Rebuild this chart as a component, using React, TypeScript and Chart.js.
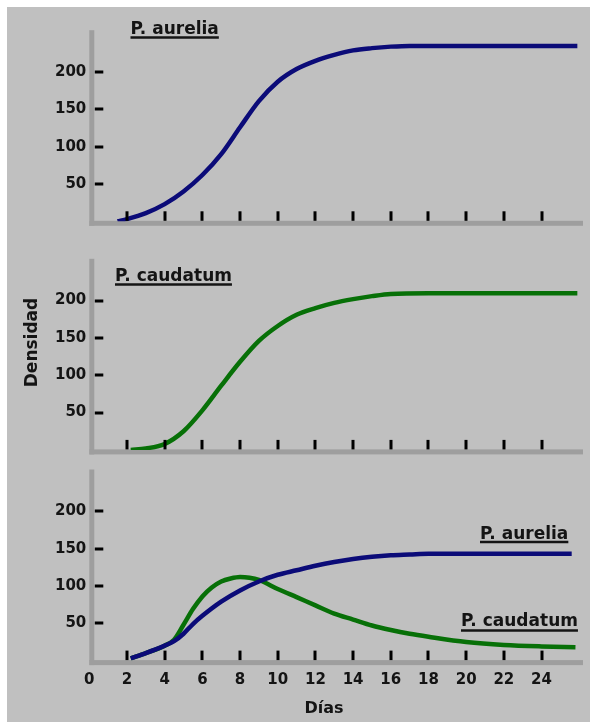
import { useEffect, useRef } from 'react';
import { Chart, registerables } from 'chart.js';

Chart.register(...registerables);

// ---------- data ----------
const xTickDays = [0, 2, 4, 6, 8, 10, 12, 14, 16, 18, 20, 22, 24];
const xMarkDays = [2, 4, 6, 8, 10, 12, 14, 16, 18, 20, 22, 24];
const yTickValues = [50, 100, 150, 200];

const aureliaAloneDays = [1.5, 2, 3, 4, 5, 6, 7, 8, 9, 10, 11, 12, 13, 14, 15, 16, 17, 18, 20, 22, 24, 25.9];
const aureliaAloneValues = [0, 3, 11, 23, 40, 62, 90, 126, 161, 187, 204, 215, 223, 229, 232, 234, 235, 235, 235, 235, 235, 235];

const caudatumAloneDays = [2.2, 3, 4, 5, 6, 7, 8, 9, 10, 11, 12, 13, 14, 15, 16, 18, 20, 22, 24, 25.9];
const caudatumAloneValues = [0, 2, 8, 25, 53, 86, 118, 146, 166, 181, 190, 197, 202, 206, 209, 210, 210, 210, 210, 210];

const aureliaMixedDays = [2.2, 3, 4, 4.5, 5, 5.5, 6, 7, 8, 9, 10, 11, 12, 13, 14, 15, 16, 17, 18, 20, 22, 24, 25.6];
const aureliaMixedValues = [3, 10, 20, 26, 36, 49, 60, 79, 94, 106, 115, 121, 127, 132, 136, 139, 141, 142, 143, 143, 143, 143, 143];

const caudatumMixedDays = [2.2, 3, 4, 4.5, 5, 5.5, 6, 6.5, 7, 7.5, 8, 8.5, 9, 10, 11, 12, 13, 14, 15, 16, 17, 18, 20, 22, 24, 25.8];
const caudatumMixedValues = [3, 10, 20, 28, 48, 69, 86, 98, 106, 110, 112, 111, 108, 96, 85, 74, 63, 55, 47, 41, 36, 32, 25, 21, 19, 18];

const yAxisTitle = 'Densidad';
const xAxisTitle = 'Días';
const nameAurelia = 'P. aurelia';
const nameCaudatum = 'P. caudatum';

// ---------- styles / layout ----------
const W = 590;
const H = 722;
const NAVY = '#0b0b78';
const GREEN = '#077007';
const AXIS_GRAY = '#9e9e9e';
const TEXT = '#141414';
const FONT_FAMILY = '"DejaVu Sans", Verdana, sans-serif';
const X0 = 89.3;
const X1 = 583;
const Y_AXIS_W = 60;
const X_MAX = 26.2;
const Y_MAX = 256;

type Series = { days: number[]; values: number[]; color: string };
type Label = { text: string; x: number; baseline: number; ul: number };
type Panel = { top: number; bottom: number; series: Series[]; showX: boolean; labels: Label[] };

const panels: Panel[] = [
  {
    top: 30.2,
    bottom: 221.3,
    series: [{ days: aureliaAloneDays, values: aureliaAloneValues, color: NAVY }],
    showX: false,
    labels: [{ text: nameAurelia, x: 130.5, baseline: 33.5, ul: 37.5 }],
  },
  {
    top: 258.8,
    bottom: 449.9,
    series: [{ days: caudatumAloneDays, values: caudatumAloneValues, color: GREEN }],
    showX: false,
    labels: [{ text: nameCaudatum, x: 115, baseline: 280.5, ul: 284.5 }],
  },
  {
    top: 469.5,
    bottom: 660.6,
    series: [
      { days: aureliaMixedDays, values: aureliaMixedValues, color: NAVY },
      { days: caudatumMixedDays, values: caudatumMixedValues, color: GREEN },
    ],
    showX: true,
    labels: [
      { text: nameAurelia, x: 480, baseline: 538.5, ul: 542 },
      { text: nameCaudatum, x: 461, baseline: 625.5, ul: 630.5 },
    ],
  },
];

function makeDecor(panel: Panel, index: number) {
  return {
    id: 'decor' + index,
    beforeDatasetsDraw(chart: any) {
      const ctx = chart.ctx as CanvasRenderingContext2D;
      const xs = chart.scales.x;
      const ys = chart.scales.y;
      const x0 = xs.getPixelForValue(0);
      const y0 = ys.getPixelForValue(0);
      const top = ys.getPixelForValue(Y_MAX);
      const xEnd = chart.chartArea.right;
      ctx.save();
      ctx.fillStyle = AXIS_GRAY;
      ctx.fillRect(x0, top, 5, y0 + 4.5 - top);
      ctx.fillRect(x0, y0 - 0.5, xEnd - x0, 5);
      ctx.restore();
    },
    afterDatasetsDraw(chart: any) {
      const ctx = chart.ctx as CanvasRenderingContext2D;
      const xs = chart.scales.x;
      const ys = chart.scales.y;
      const x0 = xs.getPixelForValue(0);
      const y0 = ys.getPixelForValue(0);
      ctx.save();
      ctx.fillStyle = '#000';
      xMarkDays.forEach((d) => {
        const px = xs.getPixelForValue(d);
        ctx.fillRect(Math.round(px) - 1.5, y0 - 10, 3, 9.5);
      });
      yTickValues.forEach((v) => {
        const py = ys.getPixelForValue(v);
        ctx.fillRect(x0 + 5.5, Math.round(py) - 1.5, 8.5, 3);
      });
      // series names with underline
      ctx.fillStyle = TEXT;
      ctx.font = 'bold 17px ' + FONT_FAMILY;
      ctx.textAlign = 'left';
      ctx.textBaseline = 'alphabetic';
      panel.labels.forEach((l) => {
        ctx.fillText(l.text, l.x, l.baseline);
        const w = ctx.measureText(l.text).width;
        ctx.fillRect(l.x, l.ul - 1.25, w, 2.5);
      });
      if (index === 1) {
        ctx.save();
        ctx.translate(37, 342.5);
        ctx.rotate(-Math.PI / 2);
        ctx.textAlign = 'center';
        ctx.font = 'bold 17px ' + FONT_FAMILY;
        ctx.fillText(yAxisTitle, 0, 0);
        ctx.restore();
      }
      if (index === 2) {
        ctx.textAlign = 'center';
        ctx.font = 'bold 16px ' + FONT_FAMILY;
        ctx.fillText(xAxisTitle, 324, 713);
      }
      ctx.restore();
    },
  };
}

function PanelChart({ panel, index }: { panel: Panel; index: number }) {
  const ref = useRef<HTMLCanvasElement | null>(null);
  useEffect(() => {
    if (!ref.current) return;
    const xAxisH = panel.showX ? 30 : 0;
    const chart = new Chart(ref.current, {
      type: 'line',
      data: {
        datasets: panel.series.map((s) => ({
          data: s.days.map((d, i) => ({ x: d, y: s.values[i] })),
          borderColor: s.color,
          borderWidth: 4.5,
          pointRadius: 0,
          fill: false,
          cubicInterpolationMode: 'monotone' as const,
          borderCapStyle: 'butt' as const,
        })),
      },
      options: {
        animation: false,
        responsive: false,
        events: [],
        layout: {
          padding: {
            left: X0 - Y_AXIS_W,
            right: W - X1,
            top: panel.top,
            bottom: H - panel.bottom - xAxisH,
          },
        },
        plugins: { legend: { display: false }, tooltip: { enabled: false }, title: { display: false } },
        scales: {
          x: {
            type: 'linear',
            min: 0,
            max: X_MAX,
            grid: { display: false, drawTicks: false },
            border: { display: false },
            afterBuildTicks: (axis: any) => {
              axis.ticks = xTickDays.map((v) => ({ value: v }));
            },
            afterFit: (axis: any) => {
              axis.height = xAxisH;
            },
            ticks: {
              display: panel.showX,
              autoSkip: false,
              maxRotation: 0,
              padding: 11,
              color: TEXT,
              font: { family: FONT_FAMILY, size: 15, weight: 'bold' },
            },
          },
          y: {
            type: 'linear',
            min: 0,
            max: Y_MAX,
            grid: { display: false, drawTicks: false },
            border: { display: false },
            afterBuildTicks: (axis: any) => {
              axis.ticks = yTickValues.map((v) => ({ value: v }));
            },
            afterFit: (axis: any) => {
              axis.width = Y_AXIS_W;
            },
            ticks: {
              padding: 3,
              color: TEXT,
              font: { family: FONT_FAMILY, size: 15, weight: 'bold' },
            },
          },
        },
      },
      plugins: [makeDecor(panel, index)],
    } as any);
    return () => chart.destroy();
  }, [panel, index]);
  return (
    <canvas
      ref={ref}
      width={W}
      height={H}
      style={{ position: 'absolute', left: 0, top: 0, width: W, height: H }}
    />
  );
}

export default function App() {
  return (
    <div style={{ position: 'fixed', left: 0, top: 0, width: W, height: H, background: '#ffffff', overflow: 'hidden' }}>
      <div style={{ position: 'absolute', left: 7, top: 7, right: 0, bottom: 0, background: '#c0c0c0' }} />
      {panels.map((p, i) => (
        <PanelChart key={i} panel={p} index={i} />
      ))}
    </div>
  );
}
